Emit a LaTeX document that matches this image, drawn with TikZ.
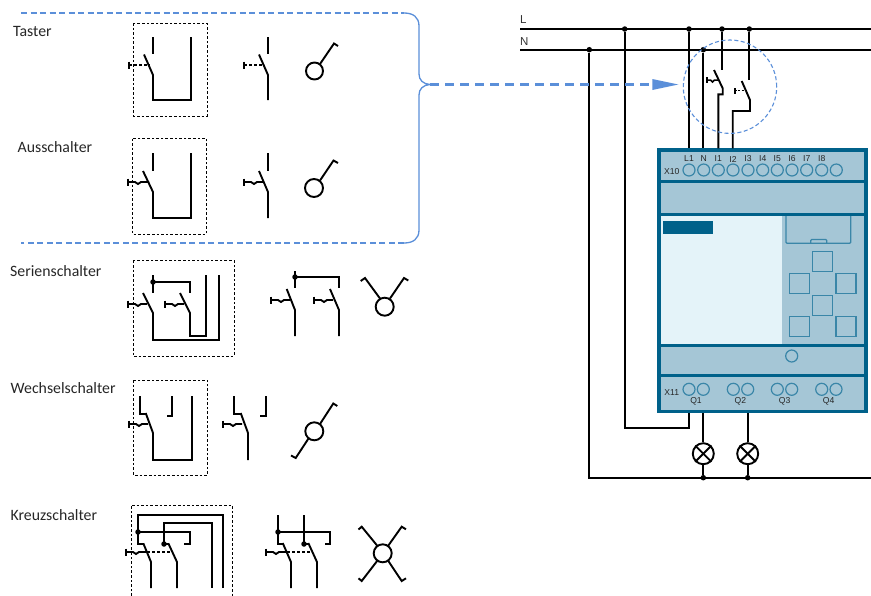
\documentclass[tikz,border=0pt]{standalone}
\usepackage{fontspec}
\setmainfont{Carlito}
\newfontfamily\devfont{Liberation Sans}
\definecolor{bluel}{HTML}{5B8FD9}
\definecolor{devdark}{HTML}{00618A}
\definecolor{devfill}{HTML}{A5C6D6}
\definecolor{devlight}{HTML}{E4F3F9}
\definecolor{devline}{HTML}{3A86A8}
\tikzset{
  wire/.style={line width=1.9pt,black,line join=miter},
  thinw/.style={line width=1.9pt,black},
  boxd/.style={line width=1pt,black,dash pattern=on 2.6pt off 2pt},
  bluedash/.style={line width=1.3pt,bluel,dash pattern=on 6pt off 3.5pt},
  blueline/.style={line width=1.3pt,bluel},
  lab/.style={font=\fontsize{15.8}{17}\selectfont,text=black!85,anchor=west,inner sep=0pt},
  term/.style={font=\devfont\fontsize{8.6}{9}\selectfont,text=black!85,inner sep=0pt},
  rail/.style={font=\devfont\fontsize{11.5}{12}\selectfont,text=black!80,inner sep=0pt},
  dev/.style={line width=3.2pt,devdark},
  pad/.style={draw=devline,line width=1.2pt,fill=none,circle,minimum size=12pt,inner sep=0pt},
  keyb/.style={draw=devline,line width=1.2pt},
  lampc/.style={line width=1.9pt,black},
  jdot/.style={circle,fill=black,inner sep=0pt,minimum size=5.5pt}
}
% push-button operator with notch: bar x, y, end x
\newcommand{\pushw}[3]{%
  \draw[line width=2.2pt] (#1,#2-3.5) -- (#1,#2+3.5);
  \draw[wire] (#1,#2) -- (#1+7,#2) -- (#1+10,#2+2) -- (#1+13,#2) -- (#3,#2);}
\newcommand{\pushd}[3]{%
  \draw[line width=2.2pt] (#1,#2-3.5) -- (#1,#2+3.5);
  \draw[wire,dash pattern=on 3pt off 2pt] (#1,#2) -- (#3,#2);}
% lamp circle
\newcommand{\lampc}[3]{\draw[lampc] (#1,#2) circle (#3pt);}
\begin{document}
\begin{tikzpicture}[x=1pt,y=-1pt]
\useasboundingbox (0,0) rectangle (871,595);
% ---------- brace
\draw[bluedash] (21,13) -- (404,13);
\draw[blueline] (404,13) .. controls (413,13) and (419,17) .. (419,26) -- (419,74)
  .. controls (419,80) and (423,84) .. (430,84.5)
  .. controls (423,85) and (419,89) .. (419,95) -- (419,230)
  .. controls (419,239) and (413,243) .. (404,243);
\draw[bluedash] (404,243) -- (21,243);
% ---------- labels
\node[lab] (t1) at (13,31) {Taster};
\node[lab] (t2) at (17.5,147) {Ausschalter};
\node[lab] (t3) at (10,271) {Serienschalter};
\node[lab] (t4) at (10.5,388) {Wechselschalter};
\node[lab] (t5) at (10.5,515) {Kreuzschalter};
% ---------- Taster
\draw[boxd] (133.5,23) rectangle (207,116);
\draw[wire] (153,37) -- (153,53.5);
\draw[wire] (191,37) -- (191,100) -- (153,100) -- (153,75) -- (144,54.5);
\pushd{129}{65}{150}
\draw[wire] (268,37) -- (268,53.5);
\draw[wire] (268,100) -- (268,75) -- (259,54.5);
\pushd{244}{65}{264}
\lampc{314.5}{71}{8.5}
\draw[wire] (320,64) -- (334,43.5) -- (338,46);
% ---------- Ausschalter
\draw[boxd] (132.5,138.5) rectangle (206.5,234);
\draw[wire] (153,153) -- (153,170.5);
\draw[wire] (191,153) -- (191,218) -- (153,218) -- (153,192) -- (143,171);
\pushw{128}{182}{149}
\draw[wire] (268,153) -- (268,170.5);
\draw[wire] (268,218) -- (268,192) -- (259,171);
\pushw{244}{182}{264}
\lampc{314}{188}{9}
\draw[wire] (320,180.5) -- (333.5,160.5) -- (338,163);
% ---------- Serienschalter
\draw[boxd] (133,260.5) rectangle (234,356);
\draw[wire] (153,275) -- (153,293);
\draw[wire] (153,282) -- (190,282) -- (190,293);
\node[jdot] (d1) at (153,282) {};
\draw[wire] (206,275) -- (206,336) -- (190,336) -- (190,313) -- (180,293);
\draw[wire] (219,275) -- (219,340) -- (153,340) -- (153,313) -- (143,293);
\pushw{128}{304}{147}
\pushw{165}{304}{184}
\draw[wire] (295,271) -- (295,288);
\draw[wire] (295,277) -- (339,277) -- (339,288);
\node[jdot] (d2) at (295,277) {};
\draw[wire] (295,336) -- (295,310) -- (286.7,289);
\draw[wire] (339,336) -- (339,310) -- (330,289);
\pushw{271}{300}{290}
\pushw{314}{300}{333}
\lampc{384.7}{306.7}{9}
\draw[wire] (380,298.5) -- (365,278) -- (360.7,281);
\draw[wire] (390,298.5) -- (404,278) -- (408.3,280.5);
% ---------- Wechselschalter
\draw[boxd] (133.5,380) rectangle (207.5,475);
\draw[wire] (140,396) -- (140,414) -- (146.7,414);
\draw[wire] (145.7,413) -- (153,433) -- (153,460) -- (192,460) -- (192,396);
\draw[wire] (172,396) -- (172,416) -- (166.7,416);
\pushw{129}{424}{148}
\draw[wire] (234,396) -- (234,414) -- (240.7,414);
\draw[wire] (240.7,413) -- (248,433) -- (248,460);
\draw[wire] (266,396) -- (266,416) -- (260,416);
\pushw{223}{424}{242}
\lampc{314.3}{431.3}{9}
\draw[wire] (320,424) -- (333.3,403.5) -- (337.3,406);
\draw[wire] (308.5,438.5) -- (295.7,458) -- (291,455.5);
% ---------- Kreuzschalter
\draw[boxd] (131,596) -- (131,505) -- (232,505) -- (232,596);
\draw[wire] (223,588) -- (223,515) -- (138,515) -- (138,544) -- (143.5,544);
\draw[wire] (143.3,543.3) -- (151,562) -- (151,588);
\draw[wire] (164,544) -- (164,523) -- (212,523) -- (212,588);
\draw[wire] (138,532) -- (190,532) -- (190,544) -- (184.3,544);
\node[jdot] (d3) at (138,532) {};
\node[jdot] (d4) at (164,544) {};
\draw[wire] (164,544) -- (168.5,544);
\draw[wire] (168.3,543.3) -- (177,562) -- (177,588);
\pushw{126}{552}{147}
\draw[wire,dash pattern=on 3pt off 2pt] (147,552) -- (173.3,552);
\draw[wire] (278,515) -- (278,544) -- (283,544);
\draw[wire] (304,515) -- (304,544);
\draw[wire] (278,532) -- (330,532) -- (330,544) -- (325,544);
\node[jdot] (d5) at (278,532) {};
\node[jdot] (d6) at (304,544) {};
\draw[wire] (304,544) -- (308.5,544);
\draw[wire] (282.7,543) -- (291,562) -- (291,588);
\draw[wire] (308.3,543) -- (317,562) -- (317,588);
\pushw{266}{552}{287}
\draw[wire,dash pattern=on 3pt off 2pt] (287,552) -- (313.3,552);
\lampc{382.7}{553.3}{9}
\draw[wire] (377.5,546) -- (361.7,526.7) -- (358.5,529.5);
\draw[wire] (388,546) -- (401.7,526.7) -- (406,529.3);
\draw[wire] (377.5,560.5) -- (361.7,581) -- (358.5,578.3);
\draw[wire] (388,560.5) -- (401.7,581) -- (406,578.3);
% ---------- device body
\fill[devfill] (659,150) rectangle (866,411.5);
\fill[devlight] (660.7,215) rectangle (781.7,345.5);
\fill[devdark] (663.3,220.7) rectangle (713.3,234.3);
\draw[dev] (659,150) rectangle (866,411.7);
\draw[line width=2.6pt,devdark] (659,181.7) -- (866,181.7);
\draw[line width=2.6pt,devdark] (659,214.5) -- (866,214.5);
\draw[line width=2.6pt,devdark] (659,345.7) -- (866,345.7);
\draw[line width=2.6pt,devdark] (659,375.7) -- (866,375.7);
\draw[keyb,rounded corners=1pt] (786,216) -- (786,243.3) -- (850.7,243.3) -- (850.7,216);
\draw[keyb,rounded corners=1pt] (810.7,243.3) -- (810.7,239.5) -- (826.7,239.5) -- (826.7,243.3);
\draw[keyb] (812.7,251.3) rectangle +(20,20);
\draw[keyb] (789.3,273.3) rectangle +(20,20);
\draw[keyb] (836,273.3) rectangle +(20,20);
\draw[keyb] (812.7,295.3) rectangle +(20,20);
\draw[keyb] (789.3,316.7) rectangle +(20,20);
\draw[keyb] (836,316.7) rectangle +(20,20);
\node[pad] (led) at (791.7,356) {};
% X10 terminals
\foreach \n/\x/\t in {a/689/L1,b/703.7/N,c/718.3/I1,d/733/I2,e/748/I3,f/762.7/I4,g/777.3/I5,h/792/I6,i/806.7/I7,j/821.7/I8}{
  \node[pad] (x\n) at (\x,170) {};
  \node[term] (tx\n) at (\x,159) {\t};
}
\node[pad] (xk) at (836.3,170) {};
\node[term] (x10) at (671.7,171.7) {X10};
% X11 terminals
\foreach \n/\x in {a/689,b/703.3,c/733.3,d/747.7,e/777.3,f/791.7,g/821.7,h/836}{
  \node[pad] (q\n) at (\x,389.3) {};
}
\node[term] (x11) at (671.7,392.3) {X11};
\node[term] (q1) at (696,401) {Q1};
\node[term] (q2) at (740.3,401) {Q2};
\node[term] (q3) at (784.7,401) {Q3};
\node[term] (q4) at (828.7,401) {Q4};
% ---------- rails
\node[rail] (Lt) at (523.3,20) {L};
\node[rail] (Nt) at (524.3,41.7) {N};
\coordinate (Ls) at (520,29);
\coordinate (Le) at (871,29);
\coordinate (Ns) at (520,49.7);
\coordinate (Ne) at (871,49.7);
\draw[thinw] (Ls) -- (Le);
\draw[thinw] (Ns) -- (Ne);
\node[jdot] (j1) at (624.7,29) {};
\node[jdot] (j2) at (689,29) {};
\node[jdot] (j3) at (722,29) {};
\node[jdot] (j4) at (749.3,29) {};
\node[jdot] (j5) at (589.3,49.7) {};
\node[jdot] (j6) at (703.3,49.7) {};
\coordinate (Be) at (871,477.7);
\draw[thinw] (j5) -- (589.3,477.7) -- (Be);
\draw[thinw] (j1) -- (624.7,428.3) -- (689.3,428.3) -- (689.3,413.3);
\draw[thinw] (j2) -- (689,148.3);
\draw[thinw] (j6) -- (703.3,148.3);
% switch 1
\draw[wire] (j3) -- (722,70);
\draw[wire] (714,70) -- (722.7,88.3) -- (722.7,94.3) -- (718.3,94.3) -- (718.3,148.3);
\draw[line width=1.7pt] (707.3,77) -- (707.3,83);
\draw[line width=1.5pt] (707.3,80) -- (710.5,80) -- (712.5,82) -- (714.5,80) -- (718,80);
% switch 2
\draw[wire] (j4) -- (749.3,80);
\draw[wire] (741.7,81) -- (750,100) -- (750,111) -- (732.7,111) -- (732.7,148.3);
\draw[line width=1.3pt] (735,88) -- (735,93.5);
\draw[line width=1.1pt,dash pattern=on 2pt off 1.3pt] (735,90.7) -- (743.5,90.7);
% lamps
\node[jdot] (b1) at (703.3,477.7) {};
\node[jdot] (b2) at (747.7,477.7) {};
\foreach \n/\x in {l1/703.3,l2/747.7}{
  \node[circle,draw=black,line width=1.9pt,minimum size=21pt,inner sep=0pt,fill=white] (\n) at (\x,453.7) {};
  \draw[line width=1.9pt] (\n.north west) -- (\n.south east);
  \draw[line width=1.9pt] (\n.north east) -- (\n.south west);
}
\draw[thinw] (703.3,413.3) -- (l1);
\draw[thinw] (l1) -- (b1);
\draw[thinw] (747.7,413.3) -- (l2);
\draw[thinw] (l2) -- (b2);
% ---------- blue circle and arrow
\node[circle,draw=bluel,line width=1.1pt,dash pattern=on 4pt off 2.5pt,minimum size=93.4pt,inner sep=0pt] (zoomc) at (730,86.7) {};
\coordinate (as) at (430,84.5);
\coordinate (ae) at (652.5,84.5);
\draw[bluel,line width=2.2pt,dash pattern=on 9pt off 6pt] (as) -- (ae);
\fill[bluel] (652.3,79) -- (678.3,84.5) -- (652.3,90) -- cycle;
\end{tikzpicture}
\end{document}
